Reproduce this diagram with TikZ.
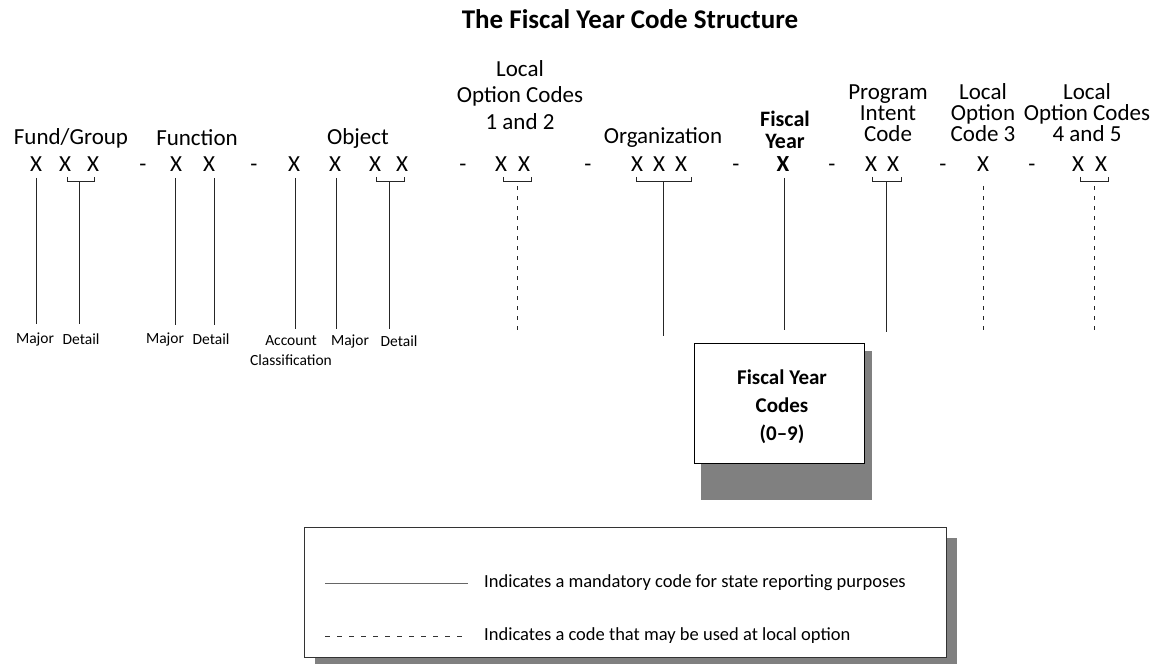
\documentclass[tikz,border=0pt]{standalone}
\usepackage{fontspec}
\setmainfont{Carlito}
\begin{document}
\begin{tikzpicture}[x=1bp,y=-1bp,
  hdr/.style={inner sep=0pt, align=center, font=\fontsize{23bp}{21bp}\selectfont},
  hdrb/.style={inner sep=0pt, align=center, font=\fontsize{22bp}{21.5bp}\selectfont\bfseries},
  xl/.style={inner sep=0pt, anchor=base, font=\fontsize{23bp}{23bp}\selectfont},
  sml/.style={inner sep=0pt, align=center, font=\fontsize{15.5bp}{20bp}\selectfont},
  leg/.style={inner sep=0pt, anchor=west, font=\fontsize{18.5bp}{20bp}\selectfont},
  ln/.style={line width=1bp, draw=black!85},
  dln/.style={line width=1bp, draw=black!85, dash pattern=on 4bp off 6bp},
  shadowc/.style={fill=black!50, draw=none}
]
\useasboundingbox (0,0) rectangle (1168,665);

% title
\node[inner sep=0pt, font=\fontsize{27bp}{27bp}\selectfont\bfseries] (title) at (630,19) {The Fiscal Year Code Structure};

% headers
\node[hdr] (hfund) at (71,138) {Fund/Group};
\node[hdr] (hfunc) at (197,138) {Function};
\node[hdr] (hobj) at (358,138) {Object};
\node[hdr, font=\fontsize{23bp}{26.5bp}\selectfont] (hloc12) at (520,95) {Local\\Option Codes\\1 and 2};
\node[hdr] (horg) at (663,138) {Organization};
\node[hdrb] (hfy) at (785,130) {Fiscal\\Year};
\node[hdr] (hpic) at (888,113) {Program\\Intent\\Code};
\node[hdr] (hloc3) at (983,113) {Local\\Option\\Code 3};
\node[hdr] (hloc45) at (1087,113) {Local\\Option Codes\\4 and 5};

% code letters (common baseline)
\node[xl] (f1) at (36,171.5) {X};
\node[xl] (f2) at (65,171.5) {X};
\node[xl] (f3) at (93,171.5) {X};
\node[xl] (d1) at (143,171.5) {-};
\node[xl] (u1) at (176,171.5) {X};
\node[xl] (u2) at (209,171.5) {X};
\node[xl] (d2) at (254,171.5) {-};
\node[xl] (o1) at (294,171.5) {X};
\node[xl] (o2) at (335,171.5) {X};
\node[xl] (o3) at (375,171.5) {X};
\node[xl] (o4) at (402,171.5) {X};
\node[xl] (d3) at (463,171.5) {-};
\node[xl] (l1) at (501,171.5) {X};
\node[xl] (l2) at (524,171.5) {X};
\node[xl] (d4) at (588,171.5) {-};
\node[xl] (g1) at (637,171.5) {X};
\node[xl] (g2) at (659,171.5) {X};
\node[xl] (g3) at (681,171.5) {X};
\node[xl] (d5) at (736,171.5) {-};
\node[xl, font=\fontsize{23bp}{23bp}\selectfont\bfseries] (y1) at (783,171.5) {X};
\node[xl] (d6) at (832,171.5) {-};
\node[xl] (p1) at (871,171.5) {X};
\node[xl] (p2) at (893,171.5) {X};
\node[xl] (d7) at (943,171.5) {-};
\node[xl] (c1) at (983,171.5) {X};
\node[xl] (d8) at (1032,171.5) {-};
\node[xl] (c2) at (1078,171.5) {X};
\node[xl] (c3) at (1101,171.5) {X};

% coordinates for lines
\coordinate (fA) at (36,178);   \coordinate (fAe) at (36,324);
\coordinate (fBl) at (67,177);  \coordinate (fBr) at (94,177);
\coordinate (fBs) at (79,182);  \coordinate (fBe) at (79,324);
\coordinate (uA) at (175,178);  \coordinate (uAe) at (175,325);
\coordinate (uB) at (214,178);  \coordinate (uBe) at (214,325);
\coordinate (oA) at (295,178);  \coordinate (oAe) at (295,329);
\coordinate (oB) at (336,178);  \coordinate (oBe) at (336,329);
\coordinate (oCl) at (376,177); \coordinate (oCr) at (404,177);
\coordinate (oCs) at (389,182); \coordinate (oCe) at (389,329);
\coordinate (lCl) at (503,177); \coordinate (lCr) at (531,177);
\coordinate (lCs) at (517,186); \coordinate (lCe) at (517,333);
\coordinate (gCl) at (636,177); \coordinate (gCr) at (691,177);
\coordinate (gCs) at (663,182); \coordinate (gCe) at (663,336);
\coordinate (yA) at (784,178);  \coordinate (yAe) at (784,330);
\coordinate (pCl) at (872,177); \coordinate (pCr) at (901,177);
\coordinate (pCs) at (886,182); \coordinate (pCe) at (886,332);
\coordinate (cA) at (983,186);  \coordinate (cAe) at (983,330);
\coordinate (cCl) at (1080,177);\coordinate (cCr) at (1108,177);
\coordinate (cCs) at (1094,186);\coordinate (cCe) at (1094,330);

% fund
\draw[ln] (fA) -- (fAe);
\draw[ln] (fBl) -- (fBl |- fBs) -- (fBr |- fBs) -- (fBr);
\draw[ln] (fBs) -- (fBe);
% function
\draw[ln] (uA) -- (uAe);
\draw[ln] (uB) -- (uBe);
% object
\draw[ln] (oA) -- (oAe);
\draw[ln] (oB) -- (oBe);
\draw[ln] (oCl) -- (oCl |- oCs) -- (oCr |- oCs) -- (oCr);
\draw[ln] (oCs) -- (oCe);
% local option 1 and 2
\draw[ln] (lCl) -- (lCl |- fBs) -- (lCr |- fBs) -- (lCr);
\draw[dln] (lCs) -- (lCe);
% organization
\draw[ln] (gCl) -- (gCl |- gCs) -- (gCr |- gCs) -- (gCr);
\draw[ln] (gCs) -- (gCe);
% fiscal year
\draw[ln] (yA) -- (yAe);
% program intent
\draw[ln] (pCl) -- (pCl |- pCs) -- (pCr |- pCs) -- (pCr);
\draw[ln] (pCs) -- (pCe);
% local option 3
\draw[dln] (cA) -- (cAe);
% local option 4 and 5
\draw[ln] (cCl) -- (cCl |- fBs) -- (cCr |- fBs) -- (cCr);
\draw[dln] (cCs) -- (cCe);

% small labels
\node[sml] (s1) at (35,339) {Major};
\node[sml] (s2) at (81,339) {Detail};
\node[sml] (s3) at (165,339) {Major};
\node[sml] (s4) at (211,339) {Detail};
\node[sml] (s5) at (291,351) {Account\\Classification};
\node[sml] (s6) at (350,341) {Major};
\node[sml] (s7) at (399,341) {Detail};

% fiscal year codes box
\fill[shadowc] (701,351) rectangle (872,500);
\node[draw=black, line width=1bp, fill=white, minimum width=170bp, minimum height=120bp, inner sep=0pt] (fybox) at (779,403) {};
\node[inner sep=0pt, align=center, font=\fontsize{21bp}{28bp}\selectfont\bfseries] (fytext) at (782,407) {Fiscal Year\\Codes\\(0--9)};

% legend
\fill[shadowc] (315,538) rectangle (957,664);
\node[draw=black!80, line width=1bp, fill=white, minimum width=641bp, minimum height=130bp, inner sep=0pt] (legbox) at (625.5,592) {};
\coordinate (ls1) at (325,583); \coordinate (ls2) at (468,583);
\coordinate (ld1) at (325,636); \coordinate (ld2) at (468,636);
\draw[line width=1bp, draw=black!60] (ls1) -- (ls2);
\draw[line width=1bp, draw=black!80, dash pattern=on 5bp off 7bp] (ld1) -- (ld2);
\node[leg] (lt1) at (484,583) {Indicates a mandatory code for state reporting purposes};
\node[leg] (lt2) at (484,636) {Indicates a code that may be used at local option};
\end{tikzpicture}
\end{document}
